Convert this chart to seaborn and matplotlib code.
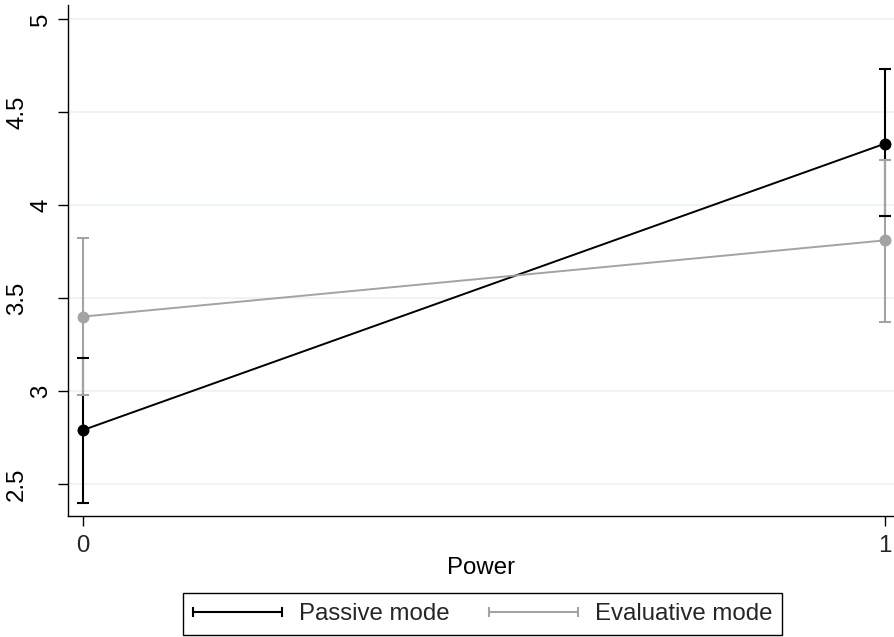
import numpy as np
import pandas as pd
import seaborn as sns
import matplotlib
matplotlib.use("Agg")
import matplotlib.pyplot as plt
from matplotlib.lines import Line2D
from matplotlib.legend_handler import HandlerLine2D

# values
power = [0, 1]
modes = ["Passive mode", "Evaluative mode"]
passive_mean = [2.79, 4.33]
passive_lo = [2.40, 3.94]
passive_hi = [3.18, 4.73]
evaluative_mean = [3.40, 3.81]
evaluative_lo = [2.98, 3.37]
evaluative_hi = [3.82, 4.24]
yticks = [2.5, 3, 3.5, 4, 4.5, 5]
ytick_labels = ["2.5", "3", "3.5", "4", "4.5", "5"]

GRAY = "#a3a3a3"
colors = {"Passive mode": "black", "Evaluative mode": GRAY}
FS = 17.3

df = pd.DataFrame({
    "power": power * 2,
    "mode": [modes[0]] * 2 + [modes[1]] * 2,
    "mean": passive_mean + evaluative_mean,
    "lo": passive_lo + evaluative_lo,
    "hi": passive_hi + evaluative_hi,
})

sns.set_theme(style="white")
plt.rcParams["font.family"] = ["Liberation Sans", "DejaVu Sans"]

fig = plt.figure(figsize=(8.95, 6.37), dpi=100)
ax = fig.add_axes([0.076, 0.19, 0.924, 0.802])

# confidence intervals
for i, m in enumerate(modes):
    sub = df[df["mode"] == m]
    err = [sub["mean"] - sub["lo"], sub["hi"] - sub["mean"]]
    _, caps, bars = ax.errorbar(sub["power"], sub["mean"], yerr=err, fmt="none",
                                ecolor=colors[m], elinewidth=1.5, capsize=4.3,
                                capthick=1.5, zorder=2 + i)
    for c in caps:
        c.set_zorder(5)

sns.lineplot(data=df, x="power", y="mean", hue="mode", palette=colors,
             hue_order=modes, marker="o", markersize=8.6, markeredgewidth=0,
             linewidth=1.4, legend=False, ax=ax, zorder=6)

ax.set_xlim(-0.0187, 1.0125)
ax.set_ylim(2.328, 5.075)
ax.set_xticks(power)
ax.set_xticklabels(["0", "1"])
ax.set_yticks(yticks)
ax.set_yticklabels([])
ax.grid(axis="y", color="#eaf2f3", linewidth=1.2)
ax.grid(axis="x", visible=False)
ax.set_axisbelow(True)

for s in ["top", "right"]:
    ax.spines[s].set_visible(False)
for s in ["left", "bottom"]:
    ax.spines[s].set_color("black")
    ax.spines[s].set_linewidth(1.0)

ax.tick_params(axis="both", direction="out", length=7, width=1, color="black",
               labelsize=FS, left=True, bottom=True)
ax.tick_params(axis="x", pad=7)

# rotated y tick labels, Stata style
ytrans = ax.get_yaxis_transform()
for v, lab in zip(yticks, ytick_labels):
    xpos = -0.0615 if len(lab) > 1 else -0.0322
    ax.text(xpos, v, lab, transform=ytrans, rotation=90, ha="center",
            va="center", fontsize=FS, color="black")

ax.set_xlabel("Power", fontsize=FS, color="black", labelpad=0)
ax.set_ylabel("")

handles = [Line2D([], [], color=colors[m], lw=1.5, marker="|", markersize=7,
                  markeredgewidth=1.5) for m in modes]
leg = fig.legend(handles, modes, loc="upper left",
                 bbox_to_anchor=(183 / 895, 1 - 593 / 637), ncol=2,
                 numpoints=2, fontsize=FS, frameon=True, fancybox=False,
                 framealpha=1, edgecolor="black", borderaxespad=0,
                 borderpad=0.42, handlelength=3.7, handletextpad=0.7,
                 columnspacing=1.65,
                 handler_map={Line2D: HandlerLine2D(marker_pad=0)})
leg.get_frame().set_linewidth(1.0)

fig.savefig("out.png", dpi=100)
